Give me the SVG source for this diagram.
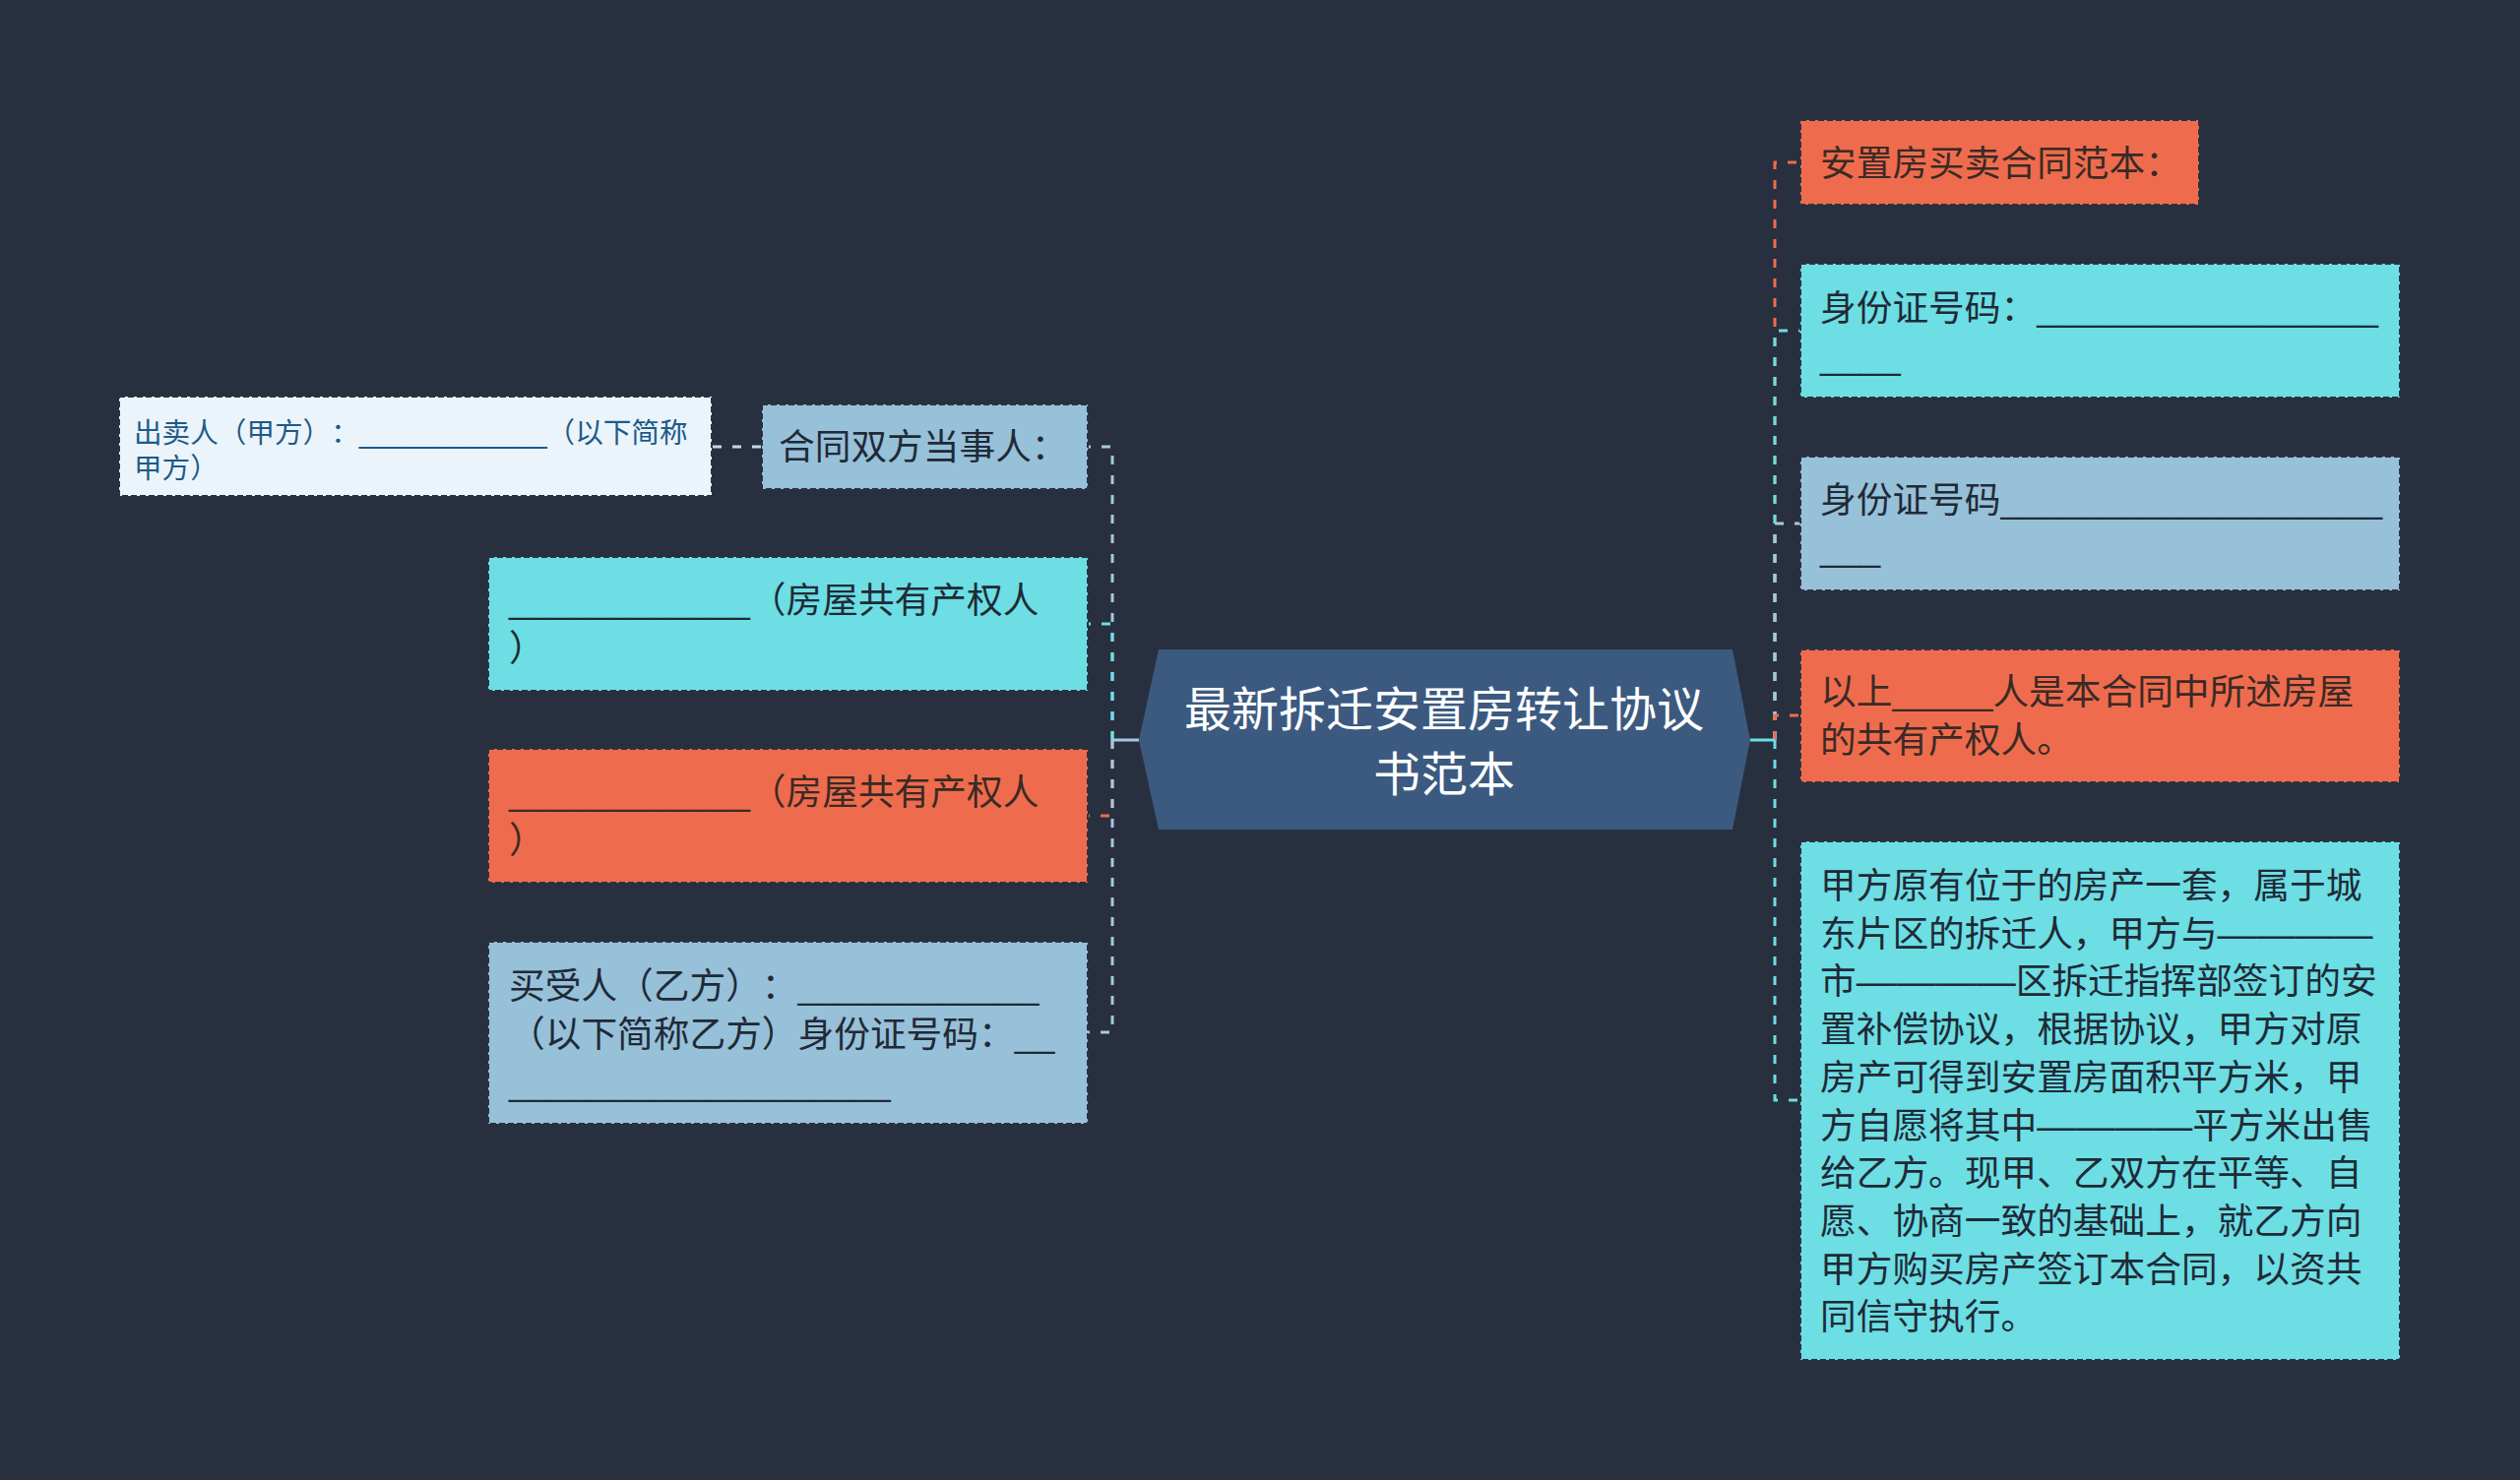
<svg xmlns="http://www.w3.org/2000/svg" width="2560" height="1504" viewBox="0 0 2560 1504">
<defs>
<style>
text{text-spacing-trim:space-all}
.t{font-family:"Liberation Sans","Noto Sans CJK SC",sans-serif;font-size:36.7px;fill:#1F2A36}
.to{fill:#3A2A26}
.ts{font-size:28.6px;fill:#1E5A88}
.tc{font-family:"Liberation Sans","Noto Sans CJK SC",sans-serif;font-size:48px;fill:#FFFFFF;text-anchor:middle}
.box{stroke:#2A3242;stroke-width:2;stroke-dasharray:6 3}
.cy{fill:#6CDEE4}
.or{fill:#EE6C4D}
.lb{fill:#97C0D9}
.wh{fill:#EAF4FA}
.c{fill:none;stroke-width:3;stroke-dasharray:9 11}
.cc{stroke:#6CDEE4}
.co{stroke:#EE6C4D}
.cl{stroke:#A6C8DF}
</style>
</defs>
<rect x="0" y="0" width="2560" height="1504" fill="#28303F"/>
<g id="connectors">
<path class="c cl" d="M1130,752 V454 H1105"/>
<path class="c cc" d="M1130,752 V634 H1105"/>
<path class="c co" d="M1130,752 V829 H1105"/>
<path class="c cl" d="M1130,752 V1049 H1105"/>
<path d="M1157,752 H1130" stroke="#A6C8DF" stroke-width="3" fill="none"/>
<path class="c co" d="M1803,752 V165 H1829"/>
<path class="c cc" d="M1803,752 V336 H1829"/>
<path class="c cl" d="M1803,752 V532 H1829"/>
<path class="c co" d="M1803,752 V727 H1829"/>
<path class="c cc" d="M1803,752 V1118 H1829"/>
<path d="M1778,752 H1803" stroke="#6CDEE4" stroke-width="3" fill="none"/>
<path class="c" stroke="#C2D9EA" d="M773,454 H723"/>
</g>
<g id="center">
<polygon points="1157,752 1177,660 1760,660 1778,752 1760,843 1177,843" fill="#3C5A80"/>
<text class="tc" x="1467" y="738">最新拆迁安置房转让协议</text>
<text class="tc" x="1467" y="804">书范本</text>
</g>
<g id="n-hetong">
<rect class="box lb" x="774" y="411" width="331" height="86"/>
<text class="t" x="791" y="467">合同双方当事人：</text>
</g>
<g id="n-seller">
<rect class="box wh" x="121" y="403" width="602" height="101"/>
<text class="t ts" x="136" y="450">出卖人（甲方）：____________（以下简称</text>
<text class="t ts" x="136" y="486">甲方）</text>
</g>
<g id="n-co1">
<rect class="box cy" x="496" y="566" width="609" height="136"/>
<text class="t" x="517" y="623">____________（房屋共有产权人</text>
<text class="t" x="517" y="672">）</text>
</g>
<g id="n-co2">
<rect class="box or" x="496" y="761" width="609" height="136"/>
<text class="t to" x="517" y="818">____________（房屋共有产权人</text>
<text class="t to" x="517" y="867">）</text>
</g>
<g id="n-buyer">
<rect class="box lb" x="496" y="957" width="609" height="185"/>
<text class="t" x="517" y="1015">买受人（乙方）：____________</text>
<text class="t" x="517" y="1064">（以下简称乙方）身份证号码：__</text>
<text class="t" x="517" y="1113">___________________</text>
</g>
<g id="n-r1">
<rect class="box or" x="1829" y="122" width="405" height="86"/>
<text class="t to" x="1849" y="179">安置房买卖合同范本：</text>
</g>
<g id="n-r2">
<rect class="box cy" x="1829" y="268" width="609" height="136"/>
<text class="t" x="1849" y="326">身份证号码：_________________</text>
<text class="t" x="1849" y="375">____</text>
</g>
<g id="n-r3">
<rect class="box lb" x="1829" y="464" width="609" height="136"/>
<text class="t" x="1849" y="521">身份证号码___________________</text>
<text class="t" x="1849" y="570">___</text>
</g>
<g id="n-r4">
<rect class="box or" x="1829" y="660" width="609" height="135"/>
<text class="t to" x="1849" y="716">以上_____人是本合同中所述房屋</text>
<text class="t to" x="1849" y="765">的共有产权人。</text>
</g>
<g id="n-r5">
<rect class="box cy" x="1829" y="855" width="609" height="527"/>
<text class="t" x="1849" y="913">甲方原有位于的房产一套，属于城</text>
<text class="t" x="1849" y="961.7">东片区的拆迁人，甲方与<tspan textLength="158" lengthAdjust="spacingAndGlyphs">————</tspan></text>
<text class="t" x="1849" y="1010.4">市<tspan textLength="162" lengthAdjust="spacingAndGlyphs">————</tspan>区拆迁指挥部签订的安</text>
<text class="t" x="1849" y="1059.1">置补偿协议，根据协议，甲方对原</text>
<text class="t" x="1849" y="1107.8">房产可得到安置房面积平方米，甲</text>
<text class="t" x="1849" y="1156.5">方自愿将其中<tspan textLength="158" lengthAdjust="spacingAndGlyphs">————</tspan>平方米出售</text>
<text class="t" x="1849" y="1205.2">给乙方。现甲、乙双方在平等、自</text>
<text class="t" x="1849" y="1253.9">愿、协商一致的基础上，就乙方向</text>
<text class="t" x="1849" y="1302.6">甲方购买房产签订本合同，以资共</text>
<text class="t" x="1849" y="1351.3">同信守执行。</text>
</g>
</svg>
